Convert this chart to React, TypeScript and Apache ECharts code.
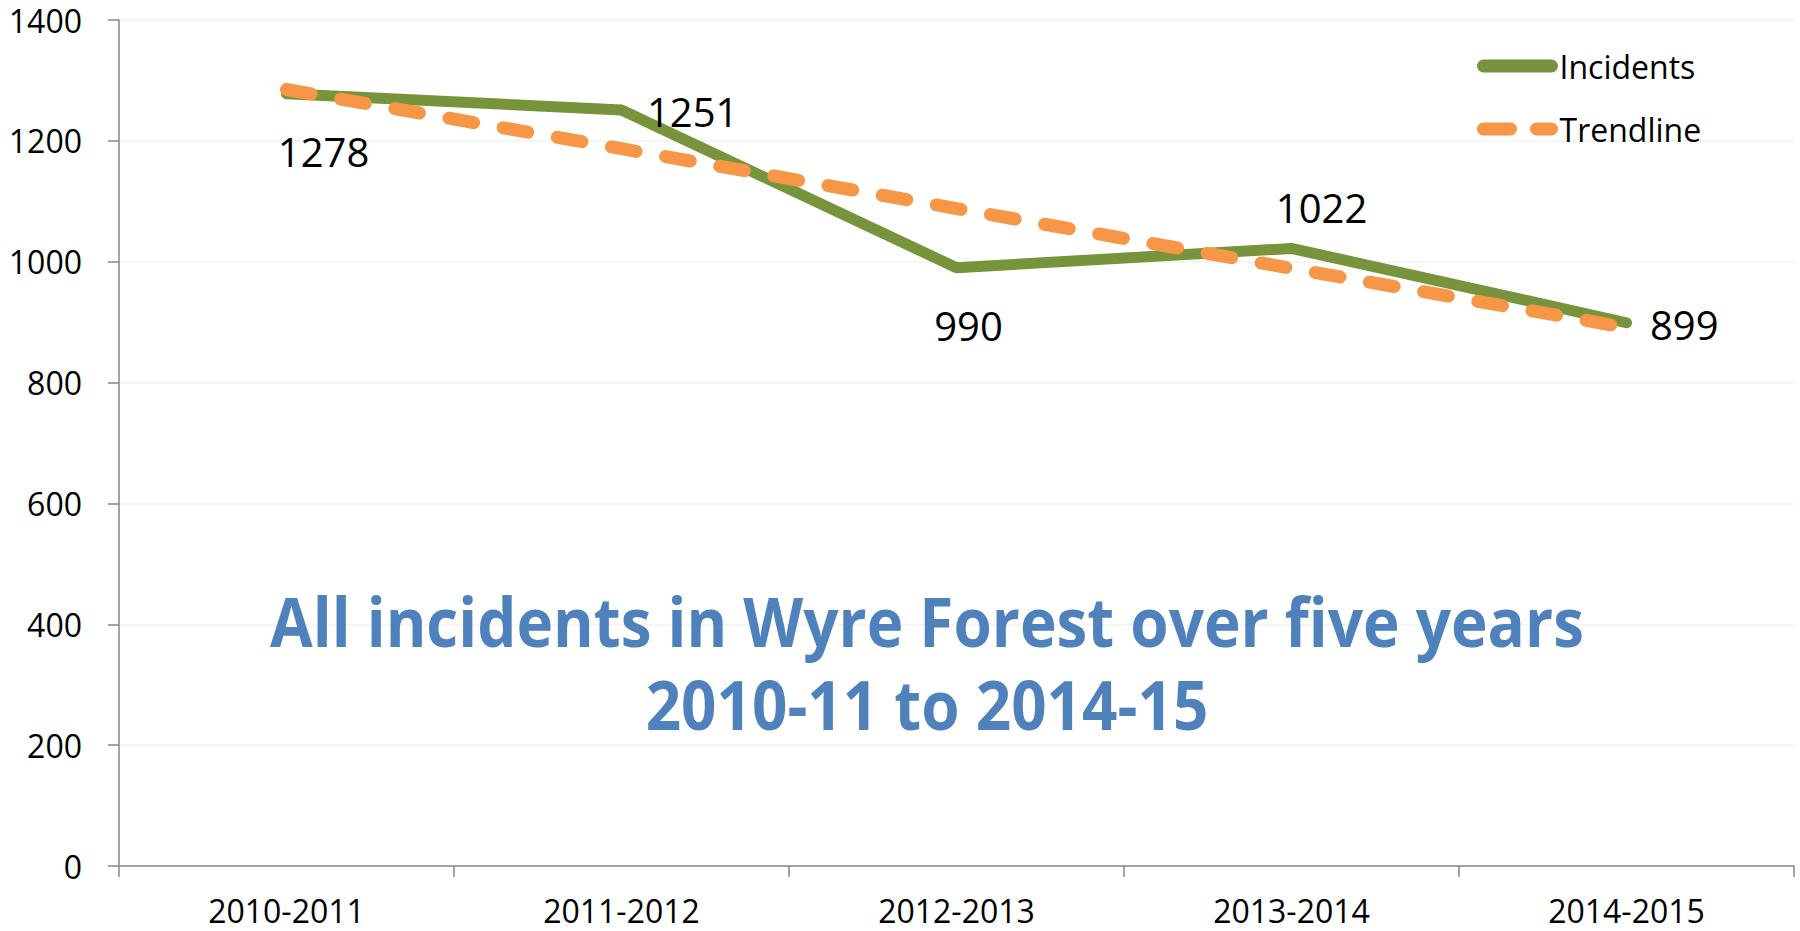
import React, { useEffect, useRef } from "react";
import * as echarts from "echarts";

const categories = ["2010-2011", "2011-2012", "2012-2013", "2013-2014", "2014-2015"];
const incidents = [1278, 1251, 990, 1022, 899];
const trendline = [1285, 1187, 1088, 989, 891];
const yTicks = { min: 0, max: 1400, interval: 200 };
const titleLines = ["All incidents in Wyre Forest over five years", "2010-11 to 2014-15"];

const FONT = "'Open Sans', sans-serif";
const GREEN = "#77933C";
const ORANGE = "#F79646";

export default function App() {
  const ref = useRef<HTMLDivElement>(null);
  useEffect(() => {
    if (!ref.current) return;
    const chart = echarts.init(ref.current, undefined, { renderer: "svg" });
    const labelCfg: any[] = [
      { position: "bottom", distance: 37, offset: [37, 0] },
      { position: "right", distance: 25, offset: [0, 1] },
      { position: "bottom", distance: 37, offset: [12, 0] },
      { position: "top", distance: 20, offset: [30, 0] },
      { position: "right", distance: 23, offset: [0, 2] },
    ];
    chart.setOption({
      animation: false,
      grid: { left: 119, right: 6, top: 20, bottom: 65, containLabel: false },
      legend: {
        orient: "vertical",
        left: 1472,
        top: 45,
        itemWidth: 68,
        itemHeight: 14,
        itemGap: 31,
        textStyle: { fontFamily: FONT, fontSize: 32, color: "#000", lineHeight: 30, padding: [0, 0, 0, 3] },
        data: [
          {
            name: "Incidents",
            itemStyle: { opacity: 0 },
            lineStyle: { width: 13, color: GREEN, cap: "round", type: "solid" },
          },
          {
            name: "Trendline",
            itemStyle: { opacity: 0 },
            lineStyle: { width: 13, color: ORANGE, cap: "round", type: [27, 26] },
          },
        ],
      },
      xAxis: {
        type: "category",
        data: categories,
        boundaryGap: true,
        axisLine: { lineStyle: { color: "#868686", width: 1.5 } },
        axisTick: { show: true, length: 11, lineStyle: { color: "#868686", width: 1.5 } },
        axisLabel: { fontFamily: FONT, fontSize: 32, color: "#000", margin: 28 },
        splitLine: { show: false },
      },
      yAxis: {
        type: "value",
        min: yTicks.min,
        max: yTicks.max,
        interval: yTicks.interval,
        axisLine: { show: true, lineStyle: { color: "#868686", width: 1.5 } },
        axisTick: { show: true, length: 11, lineStyle: { color: "#868686", width: 1.5 } },
        axisLabel: {
          fontFamily: FONT,
          fontSize: 32,
          color: "#000",
          margin: 37,
          formatter: (v: number) => String(v),
        },
        splitLine: { show: true, lineStyle: { color: "#F2F2F2", width: 1.5 } },
      },
      series: [
        {
          name: "Incidents",
          type: "line",
          data: incidents.map((v, i) => ({
            value: v,
            label: {
              show: true,
              fontFamily: FONT,
              fontSize: 40,
              lineHeight: 40,
              color: "#000",
              ...labelCfg[i],
            },
          })),
          symbol: "circle",
          symbolSize: 1,
          color: GREEN,
          itemStyle: { color: GREEN },
          lineStyle: { color: GREEN, width: 11, cap: "round", join: "round" },
          z: 2,
        },
        {
          name: "Trendline",
          type: "line",
          data: trendline,
          symbol: "none",
          color: ORANGE,
          itemStyle: { color: ORANGE },
          lineStyle: { color: ORANGE, width: 13, type: [25, 30], cap: "round", join: "round" },
          z: 3,
        },
      ],
      graphic: [
        {
          type: "text",
          x: 927,
          y: 662,
          scaleY: 1.1,
          z: 10,
          style: {
            text: titleLines.join("\n"),
            fontFamily: FONT,
            fontWeight: "bold",
            fontSize: 62,
            lineHeight: 75,
            fill: "#4F81BD",
            align: "center",
            verticalAlign: "middle",
          },
        },
      ],
    });
    return () => chart.dispose();
  }, []);
  return (
    <div
      ref={ref}
      style={{ position: "absolute", left: 0, top: 0, width: 1800, height: 931, background: "#fff" }}
    />
  );
}
